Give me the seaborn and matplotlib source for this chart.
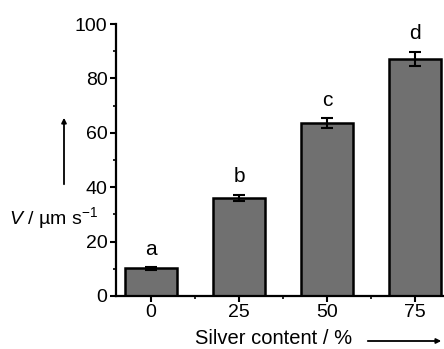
import pandas as pd
import numpy as np
import matplotlib.pyplot as plt
import seaborn as sns
from matplotlib.ticker import MultipleLocator

# data
silver = ['0', '25', '50', '75']
speed = [10.2, 36.0, 63.6, 87.2]
speed_err = [0.5, 1.2, 1.7, 2.7]
letters = ['a', 'b', 'c', 'd']

sns.set_style('ticks')
plt.rcParams['font.family'] = ['Liberation Sans', 'DejaVu Sans']
plt.rcParams['mathtext.fontset'] = 'custom'
plt.rcParams['mathtext.rm'] = 'Liberation Sans'
plt.rcParams['mathtext.it'] = 'Liberation Sans:italic'
plt.rcParams['text.color'] = 'black'
plt.rcParams['xtick.color'] = 'black'
plt.rcParams['ytick.color'] = 'black'
plt.rcParams['axes.edgecolor'] = 'black'

df = pd.DataFrame({'silver': silver, 'speed': speed, 'err': speed_err})

fig = plt.figure(figsize=(4.44, 3.49), dpi=100)
ax = fig.add_axes([0.261, 0.152, 0.739, 0.779])

sns.barplot(data=df, x='silver', y='speed', color='#707070', saturation=1,
            edgecolor='black', linewidth=1.8, width=0.6, errorbar=None, ax=ax)
ax.errorbar(range(len(silver)), df['speed'], yerr=df['err'], fmt='none',
            ecolor='black', elinewidth=1.5, capsize=4, capthick=1.5)

for i, (v, e, lab) in enumerate(zip(speed, speed_err, letters)):
    ax.annotate(lab, (i, v + e), xytext=(0, 6), textcoords='offset points',
                ha='center', va='bottom', fontsize=15)

ax.set_xlim(-0.4, 3.33)
ax.set_ylim(0, 100)
ax.yaxis.set_major_locator(MultipleLocator(20))
ax.yaxis.set_minor_locator(MultipleLocator(10))
ax.xaxis.set_minor_locator(MultipleLocator(1, offset=0.5))
ax.tick_params(axis='both', which='major', labelsize=14, width=1.5, length=4,
               direction='out', pad=2)
ax.tick_params(axis='both', which='minor', width=1.2, length=2.5, direction='out')
sns.despine(ax=ax)
for s in ['left', 'bottom']:
    ax.spines[s].set_linewidth(1.6)
ax.set_xlabel('')
ax.set_ylabel('')

# axis titles with arrows
fig.text(0.02, 1 - 218 / 349, '$V$ / µm s$^{-1}$', fontsize=14, va='center', ha='left')
fig.text(195 / 444, 1 - 339 / 349, 'Silver content / %', fontsize=14.5, va='center', ha='left')
arrow = dict(arrowstyle='-|>', color='black', lw=1.3, mutation_scale=7)
fig.add_artist(plt.Annotation('', xy=(64 / 444, 1 - 115 / 349), xytext=(64 / 444, 1 - 187 / 349),
                              xycoords='figure fraction', textcoords='figure fraction',
                              arrowprops=arrow))
fig.add_artist(plt.Annotation('', xy=(444 / 444, 1 - 341 / 349), xytext=(365 / 444, 1 - 341 / 349),
                              xycoords='figure fraction', textcoords='figure fraction',
                              arrowprops=arrow))

fig.savefig('out.png', dpi=100)
